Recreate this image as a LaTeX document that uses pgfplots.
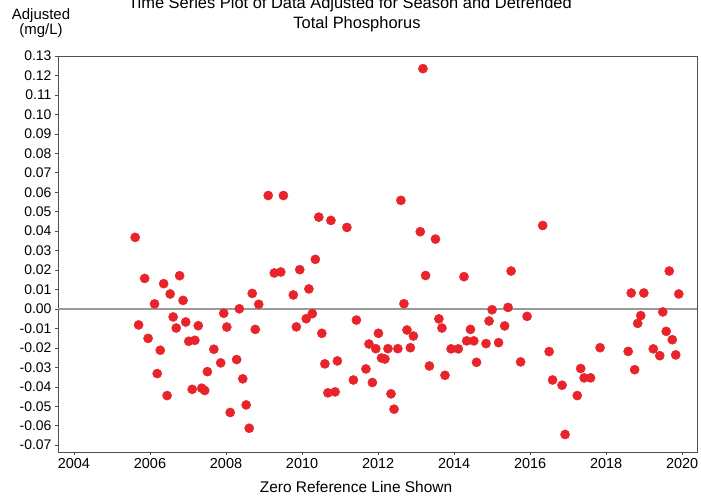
\documentclass[border=0pt]{standalone}
\usepackage{fontspec}
\setmainfont{Liberation Sans}
\usepackage{pgfplots}
\pgfplotsset{compat=1.18}
\definecolor{dotred}{HTML}{E8232A}
\definecolor{framegray}{HTML}{505050}
\definecolor{zerogray}{HTML}{9A9A9A}
\begin{document}
\begin{tikzpicture}
\begin{axis}[
	scale only axis,
	width=639bp, height=396bp,
	at={(0,0)}, anchor=south west,
	xmin=2003.58, xmax=2020.39,
	ymin=-0.0735, ymax=0.13,
	xtick={2004,2006,2008,2010,2012,2014,2016,2018,2020},
	ytick={-0.07,-0.06,-0.05,-0.04,-0.03,-0.02,-0.01,0,0.01,0.02,0.03,0.04,0.05,0.06,0.07,0.08,0.09,0.10,0.11,0.12,0.13},
	tick pos=left,
	tick align=outside,
	major tick length=3bp,
	axis line style={framegray, line width=0.9bp},
	tick style={framegray, line width=0.6bp},
	/pgf/number format/assume math mode=true,
	xticklabel style={font=\fontsize{14.5}{17}\selectfont, /pgf/number format/1000 sep={}},
	yticklabel style={font=\fontsize{14}{17}\selectfont,
		/pgf/number format/.cd, fixed, fixed zerofill, precision=2},
]
	% zero reference line
	\addplot[zerogray, line width=1.3bp] coordinates {(2003.58,0) (2020.39,0)};
	\addplot[only marks, mark=*, mark size=4.6bp,
		mark options={fill=dotred, draw=dotred}] table {
x y
2005.61 0.0368
2005.70 -0.0082
2005.86 0.0157
2005.95 -0.0151
2006.12 0.0026
2006.19 -0.0332
2006.27 -0.0212
2006.36 0.0130
2006.45 -0.0445
2006.53 0.0077
2006.61 -0.0041
2006.69 -0.0098
2006.78 0.0171
2006.87 0.0044
2006.94 -0.0067
2007.02 -0.0166
2007.11 -0.0413
2007.18 -0.0161
2007.27 -0.0086
2007.36 -0.0407
2007.44 -0.0419
2007.51 -0.0322
2007.68 -0.0207
2007.86 -0.0277
2007.94 -0.0022
2008.02 -0.0093
2008.11 -0.0532
2008.28 -0.0260
2008.35 0.0001
2008.44 -0.0359
2008.53 -0.0493
2008.61 -0.0613
2008.69 0.0080
2008.77 -0.0105
2008.86 0.0024
2009.11 0.0583
2009.27 0.0185
2009.44 0.0190
2009.51 0.0583
2009.77 0.0072
2009.85 -0.0092
2009.94 0.0202
2010.11 -0.0050
2010.18 0.0103
2010.27 -0.0024
2010.35 0.0255
2010.44 0.0472
2010.52 -0.0125
2010.60 -0.0282
2010.68 -0.0431
2010.76 0.0455
2010.87 -0.0426
2010.93 -0.0267
2011.18 0.0419
2011.35 -0.0365
2011.43 -0.0057
2011.68 -0.0308
2011.76 -0.0180
2011.85 -0.0378
2011.94 -0.0204
2012.01 -0.0125
2012.09 -0.0252
2012.18 -0.0257
2012.26 -0.0204
2012.34 -0.0436
2012.42 -0.0515
2012.52 -0.0204
2012.60 0.0558
2012.68 0.0027
2012.76 -0.0108
2012.85 -0.0199
2012.93 -0.0139
2013.11 0.0397
2013.18 0.1235
2013.25 0.0172
2013.35 -0.0293
2013.51 0.0359
2013.60 -0.0051
2013.68 -0.0098
2013.76 -0.0341
2013.92 -0.0205
2014.11 -0.0205
2014.26 0.0166
2014.33 -0.0164
2014.43 -0.0105
2014.52 -0.0164
2014.59 -0.0274
2014.84 -0.0178
2014.92 -0.0062
2015.00 -0.0004
2015.17 -0.0173
2015.33 -0.0087
2015.42 0.0008
2015.50 0.0195
2015.75 -0.0272
2015.92 -0.0038
2016.33 0.0429
2016.50 -0.0219
2016.59 -0.0365
2016.84 -0.0392
2016.92 -0.0645
2017.24 -0.0445
2017.33 -0.0306
2017.42 -0.0354
2017.59 -0.0354
2017.84 -0.0199
2018.58 -0.0218
2018.66 0.0082
2018.75 -0.0312
2018.83 -0.0074
2018.91 -0.0034
2018.99 0.0082
2019.24 -0.0205
2019.41 -0.0240
2019.49 -0.0015
2019.58 -0.0115
2019.66 0.0195
2019.74 -0.0158
2019.83 -0.0236
2019.91 0.0077
	};
\end{axis}
% titles and labels, placed in bp from the frame's lower left corner
\node[anchor=base, font=\fontsize{16.5}{20}\selectfont] at (292bp,443bp)
	{Time Series Plot of Data Adjusted for Season and Detrended};
\node[anchor=base, font=\fontsize{16.5}{20}\selectfont] at (299bp,423bp)
	{Total Phosphorus};
\node[anchor=base, font=\fontsize{15}{18}\selectfont] at (-17bp,432bp) {Adjusted};
\node[anchor=base, font=\fontsize{15}{18}\selectfont] at (-17bp,417bp) {(mg/L)};
\node[anchor=base, font=\fontsize{15.5}{18}\selectfont] at (298bp,-40bp)
	{Zero Reference Line Shown};
\pgfresetboundingbox
\path[use as bounding box] (-58bp,-46bp) rectangle (643bp,452bp);
\end{tikzpicture}
\end{document}
